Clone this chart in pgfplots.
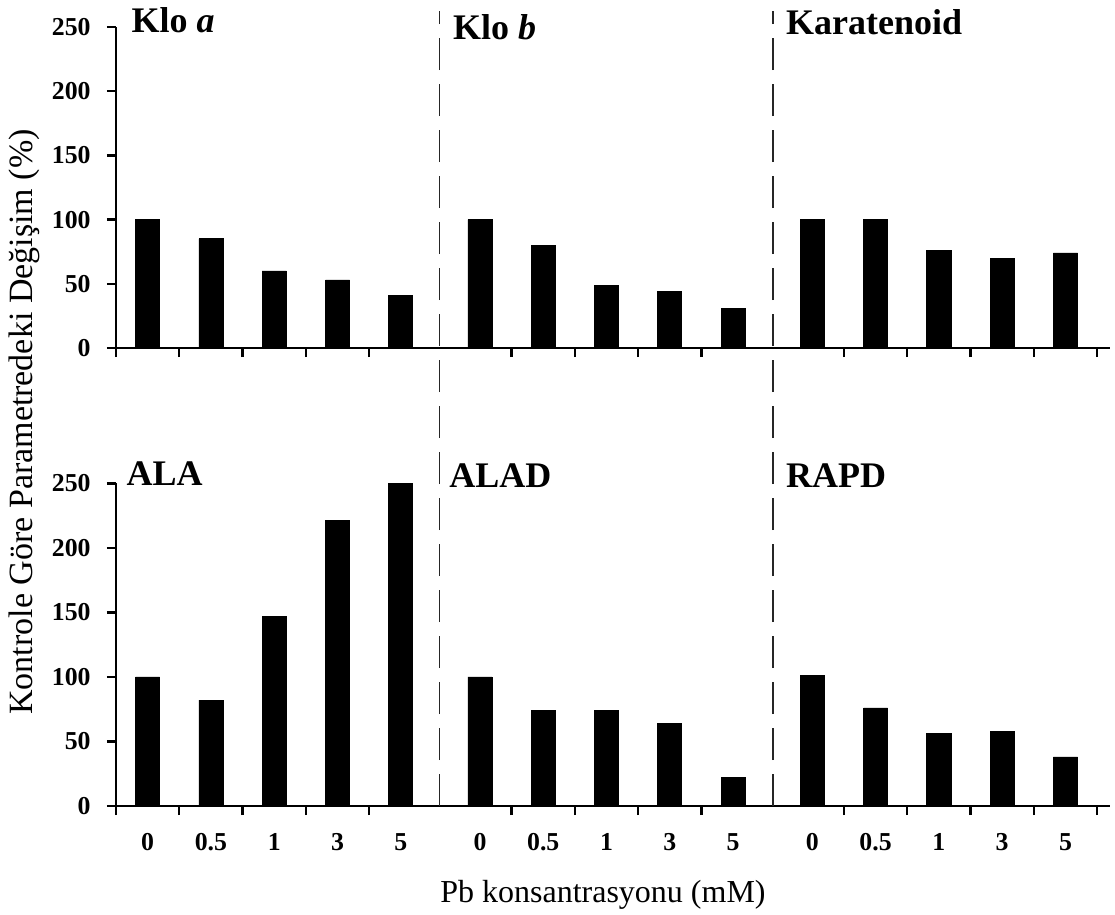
\documentclass[border=0pt]{standalone}
\usepackage{pgfplots}
\usepackage{pgfplotstable}
\pgfplotsset{compat=1.18}
\usepackage{fontspec}
\setmainfont{Liberation Serif}

\pgfplotstableread{
x y
0 100
1 85
2 60
3 53
4 41
5.25 100
6.25 80
7.25 49
8.25 44
9.25 31
10.5 100
11.5 100
12.5 76
13.5 70
14.5 74
}\toppanel

\pgfplotstableread{
x y
0 100
1 82
2 147
3 221
4 250
5.25 100
6.25 74
7.25 74
8.25 64
9.25 22
10.5 101
11.5 76
12.5 56
13.5 58
14.5 38
}\bottompanel

\pgfplotsset{
  panel/.style={
    scale only axis, width=496.9pt,
    xmin=-0.5, xmax=15.2, ymin=0, ymax=250,
    axis x line*=bottom, axis y line*=left,
    axis line style={line width=1.3pt},
    ytick={0,50,...,250},
    xtick={-0.5,0.5,1.5,2.5,3.5,5.75,6.75,7.75,8.75,11,12,13,14,15},
    xticklabels={},
    tick align=outside, major tick length=4.5pt,
    every tick/.style={black, line width=1.2pt},
    /pgf/number format/assume math mode=true,
    ticklabel style={font=\fontsize{12.9}{14}\selectfont\bfseries},
    yticklabel style={anchor=east, inner sep=0pt, xshift=-8pt},
    ybar, bar width=0.38,
    clip=false,
  },
}
\tikzset{
  lab/.style={anchor=base west, inner sep=0pt, font=\fontsize{18}{20}\selectfont\bfseries},
  sep/.style={black!85, line width=0.9pt, dash pattern=on 16pt off 7pt},
}

\begin{document}
\begin{tikzpicture}
\path[use as bounding box] (0pt,0pt) rectangle (557.5pt,-457.5pt);

\begin{axis}[panel, at={(58pt,-174pt)}, anchor=south west, height=160.5pt]
\addplot[fill=black, draw=black] table[x=x, y=y] {\toppanel};
\node[lab] at (axis cs:-0.26,246) {Klo \textit{a}};
\node[lab] at (axis cs:4.82,240.6) {Klo \textit{b}};
\node[lab] at (axis cs:10.08,243.8) {Karatenoid};
\end{axis}

\begin{axis}[panel, at={(58pt,-403pt)}, anchor=south west, height=161.35pt,
  extra x ticks={0,1,2,3,4,5.25,6.25,7.25,8.25,9.25,10.5,11.5,12.5,13.5,14.5},
  extra x tick labels={0,0.5,1,3,5,0,0.5,1,3,5,0,0.5,1,3,5},
  extra x tick style={major tick length=0pt, xticklabel style={anchor=north, inner sep=0pt, yshift=-13.5pt}},
  ylabel={Kontrole Göre Parametredeki Değişim (\%)},
  ylabel style={at={(rel axis cs:-0.092,1.19)}, anchor=center, font=\fontsize{17}{19}\selectfont},
  xlabel={Pb konsantrasyonu (mM)},
  xlabel style={at={(rel axis cs:0.49,-0.30)}, anchor=base, font=\fontsize{16}{18}\selectfont},
]
\addplot[fill=black, draw=black] table[x=x, y=y] {\bottompanel};
\draw[sep] (axis cs:4.61,0) -- (axis cs:4.61,616);
\draw[sep] (axis cs:9.88,0) -- (axis cs:9.88,616);
\node[lab] at (axis cs:-0.34,248.6) {ALA};
\node[lab] at (axis cs:4.76,247) {ALAD};
\node[lab] at (axis cs:10.08,247) {RAPD};
\end{axis}
\end{tikzpicture}
\end{document}
